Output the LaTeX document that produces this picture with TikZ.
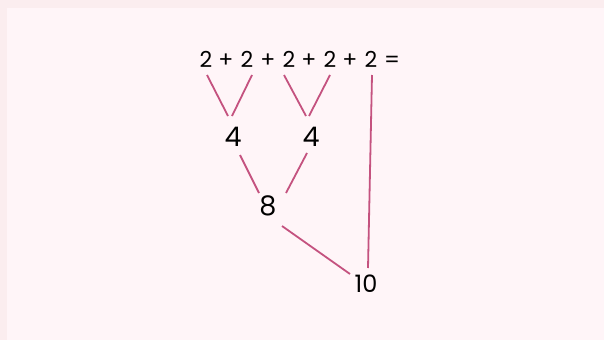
\documentclass[tikz,border=0pt]{standalone}
\usepackage{fontspec}
\setmainfont{Poppins}
\usepackage{tikz}
\usetikzlibrary{positioning, calc}
\definecolor{pagebg}{HTML}{FBEDEF}
\definecolor{cardbg}{HTML}{FFF5F8}
\definecolor{linkpink}{HTML}{C4527F}
\tikzset{
  term/.style={inner sep=0pt, font=\fontsize{22}{26}\selectfont},
  part/.style={inner sep=0pt, font=\fontsize{27}{30}\selectfont},
  total/.style={inner sep=0pt, font=\fontsize{24}{28}\selectfont},
  link/.style={draw=linkpink, line width=1.8pt},
}
\begin{document}
\begin{tikzpicture}[x=1pt, y=-1pt]
  % background card
  \fill[pagebg] (0,0) rectangle (604,340);
  \fill[cardbg] (7,8) rectangle (604,340);
  \useasboundingbox (0,0) rectangle (604,340);
  % the sum
  \node[term] (a1) at (206,59) {2};
  \node[term, anchor=base] (p1) at (226,67) {+};
  \node[term] (a2) at (247,59) {2};
  \node[term, anchor=base] (p2) at (268,67) {+};
  \node[term] (a3) at (289,59) {2};
  \node[term, anchor=base] (p3) at (309,67) {+};
  \node[term] (a4) at (330,59) {2};
  \node[term, anchor=base] (p4) at (350,67) {+};
  \node[term] (a5) at (371,59) {2};
  \node[term, anchor=base] (eq) at (392,67) {=};
  % partial sums
  \node[part] (f1) at (233,137) {4};
  \node[part] (f2) at (311,137) {4};
  \node[part] (e1) at (268,206) {8};
  \node[total] (ten) at (366,284) {10};
  % links
  \draw[link] ([shift={(1,16)}]a1.center) -- ([shift={(-5,-21)}]f1.center);
  \draw[link] ([shift={(5,16)}]a2.center) -- ([shift={(-1,-21)}]f1.center);
  \draw[link] ([shift={(-5,16)}]a3.center) -- ([shift={(-5,-21)}]f2.center);
  \draw[link] ([shift={(0,16)}]a4.center) -- ([shift={(-2,-21)}]f2.center);
  \draw[link] ([shift={(7,18)}]f1.center) -- ([shift={(-9,-13)}]e1.center);
  \draw[link] ([shift={(-4,16)}]f2.center) -- ([shift={(18,-13)}]e1.center);
  \draw[link] ([shift={(14,20)}]e1.center) -- ([shift={(-16,-10)}]ten.center);
  \draw[link] ([shift={(1,16)}]a5.center) -- ([shift={(2,-16)}]ten.center);
\end{tikzpicture}
\end{document}
